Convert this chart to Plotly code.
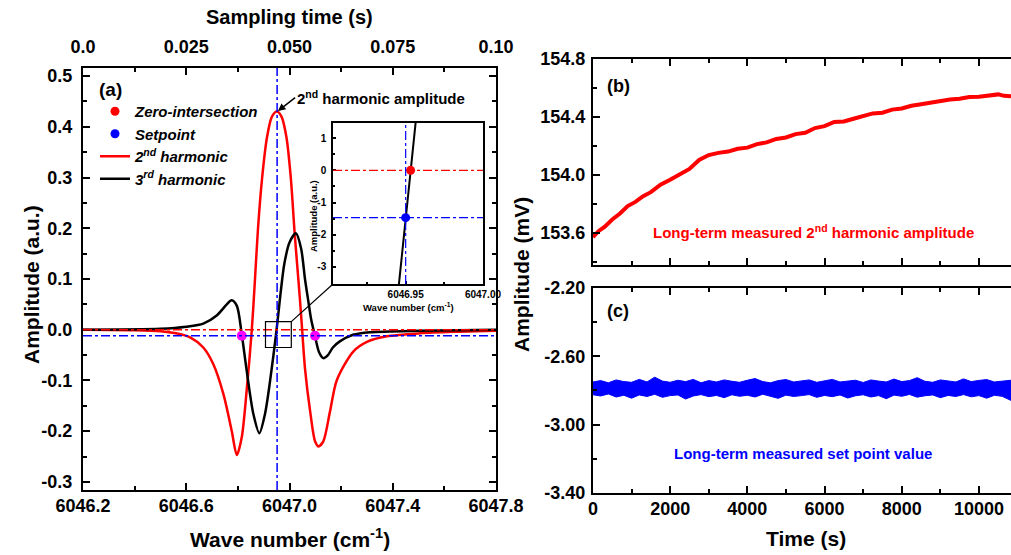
import plotly.graph_objects as go

# ---------------- Panel (a): harmonic signals ----------------
WN_RED = [6046.20, 6046.40, 6046.50, 6046.56, 6046.615, 6046.666, 6046.705, 6046.744,
          6046.776, 6046.796, 6046.815, 6046.834, 6046.854, 6046.866, 6046.878, 6046.894,
          6046.913, 6046.932, 6046.951, 6046.969, 6046.988, 6047.005, 6047.020, 6047.031,
          6047.041, 6047.049, 6047.060, 6047.080, 6047.099, 6047.112, 6047.131, 6047.157,
          6047.183, 6047.247, 6047.300, 6047.377, 6047.506, 6047.650, 6047.800]
AMP_RED = [0.000, -0.001, -0.003, -0.007, -0.015, -0.035, -0.068, -0.127,
           -0.199, -0.247, -0.212, -0.120, 0.000, 0.097, 0.200, 0.300,
           0.380, 0.420, 0.430, 0.420, 0.380, 0.300, 0.190, 0.120,
           0.056, 0.000, -0.076, -0.161, -0.220, -0.230, -0.220, -0.161,
           -0.100, -0.043, -0.024, -0.013, -0.007, -0.004, -0.002]

WN_BLK = [6046.20, 6046.50, 6046.60, 6046.666, 6046.718, 6046.757, 6046.776, 6046.796,
          6046.815, 6046.834, 6046.860, 6046.883, 6046.905, 6046.925, 6046.950, 6046.965,
          6046.980, 6047.000, 6047.025, 6047.045, 6047.060, 6047.073, 6047.084, 6047.099,
          6047.115, 6047.131, 6047.149, 6047.168, 6047.195, 6047.246, 6047.312, 6047.506,
          6047.800]
AMP_BLK = [0.000, 0.002, 0.006, 0.012, 0.028, 0.050, 0.058, 0.047,
           -0.009, -0.080, -0.166, -0.204, -0.166, -0.100, 0.000, 0.070,
           0.130, 0.172, 0.190, 0.160, 0.100, 0.056, 0.020, -0.013,
           -0.045, -0.056, -0.050, -0.035, -0.023, -0.010, -0.005, -0.002,
           0.000]

ZERO_LEVEL = 0.0
SETPOINT_LEVEL = -0.012
PEAK_WN = 6046.952
PEAK_AMP = 0.430
CROSS_WN = [6046.815, 6047.099]
CROSS_AMP = [-0.012, -0.012]
ZOOM_BOX_WN = [6046.907, 6047.007]
ZOOM_BOX_AMP = [-0.035, 0.016]
SAMPLING_TIME = [0.0, 0.10]
WN_RANGE = [6046.2, 6047.8]
AMP_RANGE = [-0.316, 0.516]
AMP_TICKS = [-0.3, -0.2, -0.1, 0.0, 0.1, 0.2, 0.3, 0.4, 0.5]
AMP_TICK_TEXT = ["-0.3", "-0.2", "-0.1", "0.0", "0.1", "0.2", "0.3", "0.4", "0.5"]
TOP_TICKS = [0, 0.025, 0.05, 0.075, 0.1]
TOP_TICK_TEXT = ["0.0", "0.025", "0.050", "0.075", "0.10"]

# ---------------- Inset ----------------
INSET_WN = [6046.9455, 6046.9532, 6046.9567]
INSET_AMP = [-3.60, 0.00, 1.60]
INSET_ZERO_WN, INSET_ZERO_AMP = 6046.9532, 0.0
INSET_SET_WN, INSET_SET_AMP = 6046.950, -1.47
INSET_WN_RANGE = [6046.903, 6047.0]
INSET_AMP_RANGE = [-3.53, 1.47]
INSET_WN_TICKS = [6046.95, 6047.00]
INSET_WN_TICK_TEXT = ["6046.95", "6047.00"]
INSET_AMP_TICKS = [-3, -2, -1, 0, 1]
INSET_AMP_TICK_TEXT = ["-3", "-2", "-1", "0", "1"]

# ---------------- Panel (b): 2nd harmonic amplitude vs time ----------------
T_B = [0, 150, 300, 500, 700, 900, 1100, 1300, 1500, 1750, 2000, 2250, 2500, 2750,
       3000, 3250, 3500, 3750, 4000, 4250, 4500, 4750, 5000, 5250, 5500, 5750, 6000,
       6250, 6500, 6750, 7000, 7250, 7500, 7750, 8000, 8250, 8500, 8750, 9000, 9250,
       9500, 9750, 10000, 10250, 10500, 10650, 10830]
V_B = [153.572, 153.615, 153.643, 153.694, 153.735, 153.786, 153.815, 153.854, 153.882,
       153.934, 153.968, 154.009, 154.042, 154.104, 154.138, 154.153, 154.162, 154.181,
       154.189, 154.213, 154.225, 154.249, 154.259, 154.282, 154.292, 154.324, 154.337,
       154.366, 154.369, 154.388, 154.408, 154.425, 154.430, 154.451, 154.459, 154.478,
       154.488, 154.501, 154.508, 154.521, 154.526, 154.538, 154.540, 154.551, 154.556,
       154.546, 154.543]
B_RANGE = [153.38, 154.8]
B_TICKS = [153.6, 154.0, 154.4, 154.8]

# ---------------- Panel (c): set point value vs time (band envelope) ----------------
T_C = [0, 200, 400, 600, 800, 1000, 1200, 1400, 1600, 1800, 2000, 2200, 2400, 2600,
       2800, 3000, 3200, 3400, 3600, 3800, 4000, 4200, 4400, 4600, 4800, 5000, 5200,
       5400, 5600, 5800, 6000, 6200, 6400, 6600, 6800, 7000, 7200, 7400, 7600, 7800,
       8000, 8200, 8400, 8600, 8800, 9000, 9200, 9400, 9600, 9800, 10000, 10200, 10400,
       10600, 10830]
C_UPPER = [-2.750, -2.742, -2.755, -2.738, -2.748, -2.752, -2.735, -2.750, -2.722, -2.745,
           -2.752, -2.740, -2.748, -2.735, -2.755, -2.742, -2.750, -2.738, -2.746, -2.752,
           -2.740, -2.730, -2.748, -2.755, -2.742, -2.736, -2.750, -2.745, -2.738, -2.752,
           -2.743, -2.735, -2.750, -2.747, -2.740, -2.753, -2.738, -2.745, -2.750, -2.733,
           -2.748, -2.742, -2.725, -2.746, -2.752, -2.738, -2.744, -2.750, -2.732, -2.748,
           -2.741, -2.736, -2.750, -2.745, -2.740]
C_LOWER = [-2.825, -2.832, -2.820, -2.838, -2.828, -2.845, -2.826, -2.835, -2.822, -2.840,
           -2.830, -2.826, -2.850, -2.832, -2.824, -2.836, -2.829, -2.842, -2.825, -2.834,
           -2.828, -2.838, -2.822, -2.833, -2.846, -2.827, -2.835, -2.830, -2.824, -2.840,
           -2.829, -2.836, -2.826, -2.844, -2.831, -2.825, -2.838, -2.830, -2.848, -2.827,
           -2.834, -2.823, -2.839, -2.831, -2.826, -2.842, -2.829, -2.835, -2.824, -2.837,
           -2.830, -2.845, -2.828, -2.834, -2.858]
C_RANGE = [-3.40, -2.20]
C_TICKS = [-3.4, -3.0, -2.6, -2.2]
C_TICK_TEXT = ["-3.40", "-3.00", "-2.60", "-2.20"]
T_RANGE = [0, 10830]

# ---------------- Styles ----------------
RED = "#ff0000"
BLUE = "#0000ff"
MAGENTA = "#ff00ff"
FONT = "Liberation Sans, Arial, sans-serif"

A_X = [0.0821, 0.4906]
A_Y = [0.1171, 0.8775]
IN_X = [0.3294, 0.4777]
IN_Y = [0.4883, 0.7784]
B_X = [0.5865, 1.0]
B_Y = [0.5225, 0.8937]
C_Y = [0.1117, 0.4811]

fig = go.Figure()

# Panel (a) curves
fig.add_trace(go.Scatter(x=WN_RED, y=AMP_RED, mode="lines",
                         line=dict(color=RED, width=2.5, shape="spline", smoothing=0.8),
                         name="2<sup>nd</sup> harmonic", legendrank=3, xaxis="x", yaxis="y"))
fig.add_trace(go.Scatter(x=WN_BLK, y=AMP_BLK, mode="lines",
                         line=dict(color="black", width=2.5, shape="spline", smoothing=0.8),
                         name="3<sup>rd</sup> harmonic", legendrank=4, xaxis="x", yaxis="y"))
fig.add_trace(go.Scatter(x=CROSS_WN, y=CROSS_AMP, mode="markers",
                         marker=dict(color=MAGENTA, size=10), showlegend=False,
                         xaxis="x", yaxis="y"))
# top axis carrier
fig.add_trace(go.Scatter(x=SAMPLING_TIME, y=[ZERO_LEVEL, ZERO_LEVEL], mode="lines",
                         line=dict(width=0), opacity=0, showlegend=False, hoverinfo="skip",
                         xaxis="x2", yaxis="y"))

# Inset
fig.add_trace(go.Scatter(x=INSET_WN, y=INSET_AMP, mode="lines", line=dict(color="black", width=2),
                         showlegend=False, xaxis="x3", yaxis="y3"))
fig.add_trace(go.Scatter(x=[INSET_ZERO_WN], y=[INSET_ZERO_AMP], mode="markers",
                         marker=dict(color=RED, size=9), name="Zero-intersection",
                         legendrank=1, xaxis="x3", yaxis="y3"))
fig.add_trace(go.Scatter(x=[INSET_SET_WN], y=[INSET_SET_AMP], mode="markers",
                         marker=dict(color=BLUE, size=9), name="Setpoint",
                         legendrank=2, xaxis="x3", yaxis="y3"))

# Panel (b)
fig.add_trace(go.Scatter(x=T_B, y=V_B, mode="lines", line=dict(color=RED, width=4),
                         showlegend=False, xaxis="x4", yaxis="y4"))
# Panel (c)
fig.add_trace(go.Scatter(x=T_C, y=C_LOWER, mode="lines", line=dict(color=BLUE, width=1),
                         showlegend=False, xaxis="x5", yaxis="y5"))
fig.add_trace(go.Scatter(x=T_C, y=C_UPPER, mode="lines", line=dict(color=BLUE, width=1),
                         fill="tonexty", fillcolor=BLUE, showlegend=False,
                         xaxis="x5", yaxis="y5"))

tickfont = dict(family=FONT, size=18, color="black", weight="bold")
axis_common = dict(showline=True, linecolor="black", linewidth=2, ticks="inside",
                   tickcolor="black", tickwidth=2, ticklen=7, showgrid=False,
                   zeroline=False, tickfont=tickfont, automargin=False)
small_font = dict(family=FONT, size=10, color="black", weight="bold")

fig.update_layout(
    width=1011, height=555,
    margin=dict(l=0, r=0, t=0, b=0),
    paper_bgcolor="white", plot_bgcolor="white",
    showlegend=True,
    legend=dict(x=95 / 1011, y=(555 - 95) / 555, xanchor="left", yanchor="top",
                traceorder="normal",
                bgcolor="rgba(0,0,0,0)", borderwidth=0, itemwidth=30,
                font=dict(family=FONT, size=15, color="black", weight="bold", style="italic")),
    xaxis=dict(domain=A_X, anchor="y", range=WN_RANGE, tick0=6046.2, dtick=0.4,
               tickformat=".1f", minor=dict(ticks="inside", dtick=0.2, ticklen=4,
                                            tickwidth=2, tickcolor="black"),
               ticklabelstandoff=-2, **axis_common),
    xaxis2=dict(overlaying="x", side="top", anchor="y", range=SAMPLING_TIME,
                tickvals=TOP_TICKS, ticktext=TOP_TICK_TEXT,
                minor=dict(ticks="inside", dtick=0.0125, ticklen=4, tickwidth=2,
                           tickcolor="black"),
                ticklabelstandoff=6, **axis_common),
    yaxis=dict(domain=A_Y, anchor="x", range=AMP_RANGE, tickvals=AMP_TICKS,
               ticktext=AMP_TICK_TEXT, mirror="ticks",
               minor=dict(ticks="inside", dtick=0.05, ticklen=4, tickwidth=2,
                          tickcolor="black"),
               ticklabelstandoff=5, **axis_common),
    xaxis3=dict(domain=IN_X, anchor="y3", range=INSET_WN_RANGE,
                tickvals=INSET_WN_TICKS, ticktext=INSET_WN_TICK_TEXT,
                showline=True, linecolor="black", linewidth=1.5, mirror=True,
                ticks="inside", ticklen=3, tickwidth=1.5, tickcolor="black",
                minor=dict(ticks="inside", tickvals=[6046.925, 6046.975], ticklen=2),
                showgrid=False, zeroline=False, ticklabelstandoff=0, automargin=False,
                tickfont=small_font),
    yaxis3=dict(domain=IN_Y, anchor="x3", range=INSET_AMP_RANGE,
                tickvals=INSET_AMP_TICKS, ticktext=INSET_AMP_TICK_TEXT,
                showline=True, linecolor="black", linewidth=1.5, mirror=True,
                ticks="inside", ticklen=3, tickwidth=1.5, tickcolor="black",
                minor=dict(ticks="inside", dtick=0.5, ticklen=2),
                showgrid=False, zeroline=False, ticklabelstandoff=3, automargin=False,
                tickfont=small_font),
    xaxis4=dict(domain=B_X, anchor="y4", range=T_RANGE, dtick=2000, showticklabels=False,
                mirror="ticks",
                minor=dict(ticks="inside", dtick=1000, ticklen=4, tickwidth=2,
                           tickcolor="black"), **axis_common),
    yaxis4=dict(domain=B_Y, anchor="x4", range=B_RANGE,
                tickvals=B_TICKS, tickformat=".1f",
                minor=dict(ticks="inside", dtick=0.2, ticklen=4, tickwidth=2,
                           tickcolor="black"),
                ticklabelstandoff=2, **axis_common),
    xaxis5=dict(domain=B_X, anchor="y5", range=T_RANGE, dtick=2000, tickformat="d",
                mirror="ticks",
                minor=dict(ticks="inside", dtick=1000, ticklen=4, tickwidth=2,
                           tickcolor="black"),
                ticklabelstandoff=-2, **axis_common),
    yaxis5=dict(domain=C_Y, anchor="x5", range=C_RANGE,
                tickvals=C_TICKS, ticktext=C_TICK_TEXT,
                minor=dict(ticks="inside", dtick=0.2, ticklen=4, tickwidth=2,
                           tickcolor="black"),
                ticklabelstandoff=2, **axis_common),
)

# reference lines
shapes = [
    dict(type="line", xref="x domain", yref="y", x0=0, x1=1, y0=ZERO_LEVEL, y1=ZERO_LEVEL,
         line=dict(color=RED, width=1.5, dash="dashdot")),
    dict(type="line", xref="x domain", yref="y", x0=0, x1=1, y0=SETPOINT_LEVEL, y1=SETPOINT_LEVEL,
         line=dict(color=BLUE, width=1.5, dash="dashdot")),
    dict(type="line", xref="x", yref="y domain", x0=PEAK_WN, x1=PEAK_WN, y0=0, y1=1,
         line=dict(color=BLUE, width=1.5, dash="dashdot")),
    dict(type="rect", xref="x", yref="y", x0=ZOOM_BOX_WN[0], x1=ZOOM_BOX_WN[1],
         y0=ZOOM_BOX_AMP[0], y1=ZOOM_BOX_AMP[1], line=dict(color="black", width=1.2)),
    dict(type="line", xref="x3 domain", yref="y3", x0=0, x1=1, y0=INSET_ZERO_AMP, y1=INSET_ZERO_AMP,
         line=dict(color=RED, width=1.2, dash="dashdot")),
    dict(type="line", xref="x3 domain", yref="y3", x0=0, x1=1, y0=INSET_SET_AMP, y1=INSET_SET_AMP,
         line=dict(color=BLUE, width=1.2, dash="dashdot")),
    dict(type="line", xref="x3", yref="y3 domain", x0=INSET_SET_WN, x1=INSET_SET_WN, y0=0, y1=1,
         line=dict(color=BLUE, width=1.2, dash="dashdot")),
]
# connector from zoom box to inset corner (inset corner expressed in panel-a data units)
corner_wn = WN_RANGE[0] + (IN_X[0] - A_X[0]) / (A_X[1] - A_X[0]) * (WN_RANGE[1] - WN_RANGE[0])
corner_amp = AMP_RANGE[0] + (IN_Y[0] - A_Y[0]) / (A_Y[1] - A_Y[0]) * (AMP_RANGE[1] - AMP_RANGE[0])
shapes.append(dict(type="line", xref="x", yref="y", x0=ZOOM_BOX_WN[1], y0=ZOOM_BOX_AMP[1],
                   x1=corner_wn, y1=corner_amp, line=dict(color="black", width=1.2)))
fig.update_layout(shapes=shapes)

def bold(size, color="black"):
    return dict(family=FONT, size=size, color=color, weight="bold")

def label(text, px, py, size, color="black", angle=0, xanchor="center"):
    return dict(text=text, x=px / 1011, y=(555 - py) / 555, xref="paper", yref="paper",
                xanchor=xanchor, yanchor="middle", textangle=angle, showarrow=False,
                font=bold(size, color))

annotations = [
    label("Sampling time (s)", 289.5, 17, 20),
    label("Wave number (cm<sup>-1</sup>)", 289.5, 538, 21),
    label("Amplitude (a.u.)", 31, 285, 21, angle=-90),
    label("Amplitude (mV)", 521, 275, 21, angle=-90),
    label("Time (s)", 806, 538, 21),
    label("(a)", 97, 89, 19, xanchor="left"),
    label("(b)", 605, 86, 18, xanchor="left"),
    label("(c)", 605, 311, 18, xanchor="left"),
    label("Long-term measured 2<sup>nd</sup> harmonic amplitude", 813, 232, 15, RED),
    label("Long-term measured set point value", 803, 453, 15, BLUE),
    label("Amplitude (a.u.)", 313, 216, 9.5, angle=-90),
    label("Wave number (cm<sup>-1</sup>)", 408, 307, 9.5),
    dict(text="2<sup>nd</sup> harmonic amplitude", x=PEAK_WN, y=PEAK_AMP, xref="x", yref="y",
         showarrow=True, ax=18, ay=-14, xanchor="left", yanchor="middle", arrowhead=2,
         arrowsize=1, arrowwidth=1.5, arrowcolor="black", standoff=1, font=bold(15)),
]
fig.update_layout(annotations=annotations)

fig.write_html("out.html")
